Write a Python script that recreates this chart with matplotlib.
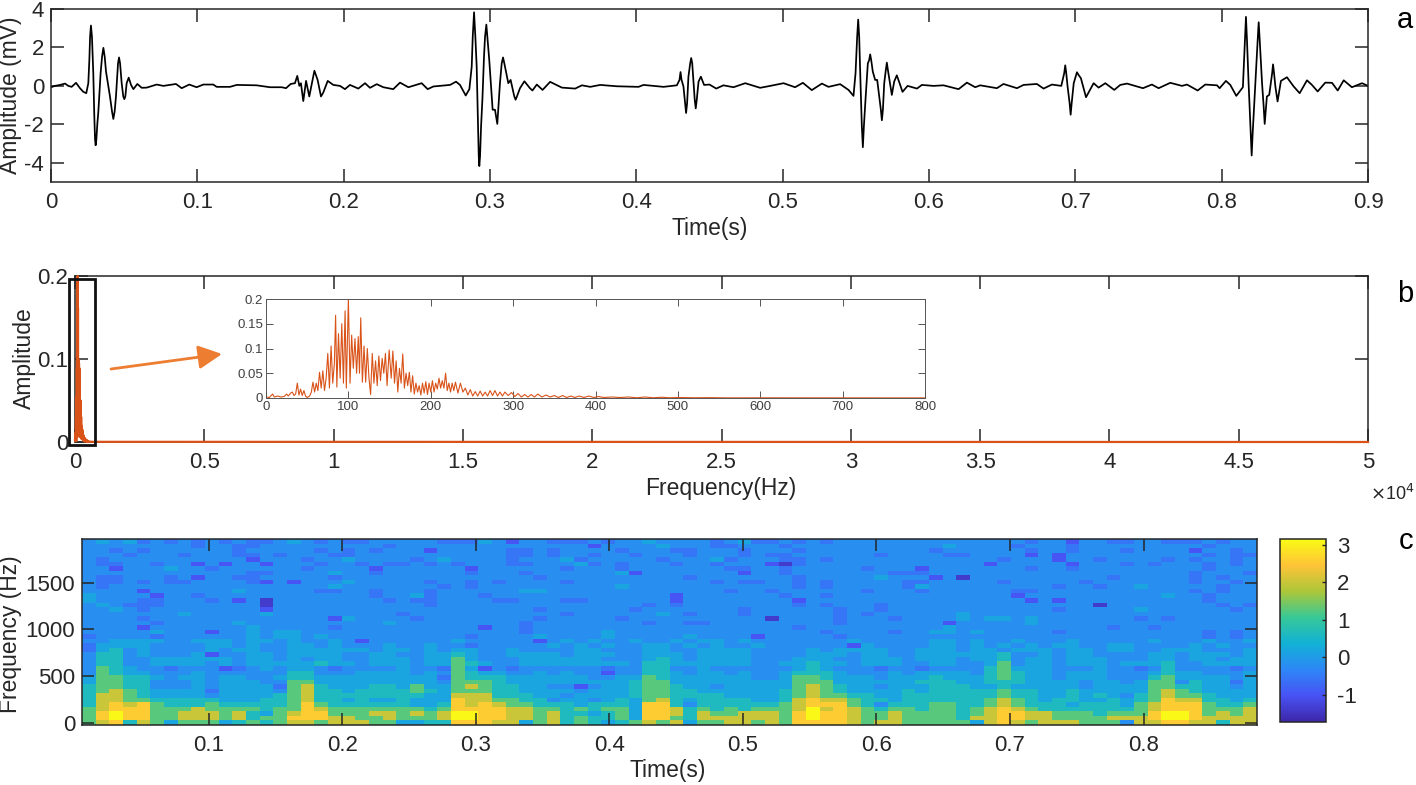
import matplotlib
matplotlib.use('Agg')
import matplotlib.pyplot as plt
import numpy as np
from matplotlib.colors import LinearSegmentedColormap
from matplotlib.patches import Rectangle, FancyArrowPatch

plt.rcParams['font.family'] = ['Liberation Sans', 'DejaVu Sans']
plt.rcParams['axes.unicode_minus'] = False

W, H = 1416, 785

# panel a
t_sig = [.0000,.0027,.0062,.0096,.0118,.0141,.0171,.0198,.0221,.0241,.0255,.0273,.0289,.0305,.0323,.0339,.0358,.0376,.0403,.0426,
         .0444,.0465,.0483,.0501,.0517,.0531,.0547,.0563,.0590,.0620,.0654,.0722,.0768,.0854,.0893,.0945,.0995,.1041,.1109,.1132,
         .1223,.1269,.1405,.1497,.1576,.1606,.1638,.1667,.1683,.1697,.1708,.1724,.1743,.1765,.1800,.1822,.1845,.1861,.1891,.1929,
         .1975,.2009,.2043,.2100,.2146,.2180,.2226,.2271,.2339,.2385,.2442,.2533,.2574,.2613,.2727,.2768,.2795,.2834,.2859,.2875,
         .2891,.2909,.2927,.2948,.2966,.2975,.2995,.3018,.3034,.3050,.3068,.3089,.3109,.3125,.3141,.3175,.3205,.3235,.3273,.3290,
         .3320,.3359,.3411,.3491,.3582,.3628,.3685,.3753,.3867,.4015,.4049,.4186,.4277,.4302,.4322,.4340,.4356,.4375,.4390,.4406,
         .4425,.4441,.4463,.4500,.4546,.4595,.4664,.4744,.4846,.4915,.5006,.5085,.5138,.5199,.5268,.5313,.5393,.5450,.5484,.5498,
         .5516,.5530,.5548,.5566,.5582,.5598,.5616,.5632,.5646,.5678,.5694,.5712,.5730,.5746,.5762,.5780,.5799,.5819,.5854,.5918,
         .5951,.6031,.6099,.6202,.6259,.6316,.6350,.6464,.6509,.6601,.6646,.6737,.6783,.6840,.6904,.6931,.6947,.6968,.6989,.7011,
         .7038,.7073,.7125,.7159,.7205,.7266,.7307,.7353,.7462,.7523,.7569,.7649,.7729,.7763,.7836,.7888,.7968,.7986,.8029,.8059,
         .8100,.8145,.8166,.8184,.8205,.8230,.8253,.8276,.8294,.8309,.8325,.8351,.8367,.8382,.8405,.8446,.8492,.8533,.8583,.8617,
         .8656,.8708,.8754,.8793,.8834,.8890,.8959,.9000]
amp_sig = [-.07,0,.05,.12,0,-.05,.16,-.12,-.31,-.38,.14,3.14,.66,-3.09,-1.41,.66,1.98,.74,-.55,-1.72,
           -.55,1.48,.14,-.69,.14,.43,.05,-.17,.10,-.10,-.09,.07,0,.10,-.12,.07,-.07,.07,.07,-.05,
           -.05,.05,.03,-.07,-.07,-.12,.10,.14,.52,0,.14,-.79,.26,-.55,.79,.31,-.55,-.34,.26,.05,
           0,-.17,.05,-.14,.14,-.10,.09,-.07,-.17,.17,-.07,.14,-.17,-.03,.05,.22,.05,-.50,-.17,1.00,
           3.83,1.00,-4.17,-.72,2.55,3.19,1.34,-1.24,-1.24,-1.98,.14,1.48,.74,.14,.31,-.72,-.12,.24,-.12,-.24,
           .07,-.21,.21,-.09,-.14,.03,-.05,.05,-.02,-.05,.05,-.05,.03,.72,-.03,-1.41,.48,1.45,.31,-1.17,
           .22,.48,.05,.07,-.14,.03,-.07,.14,-.10,0,.14,-.07,.16,-.22,.12,-.05,.09,-.21,-.52,.66,
           3.45,.66,-3.19,-.72,1.17,1.64,.74,.31,.31,-1.79,.14,1.21,.31,-.47,.22,.55,.14,-.31,0,-.14,
           .05,0,.03,-.17,.17,-.07,.03,-.12,.10,-.12,.05,.10,-.14,.07,0,1.07,-.03,-1.50,.14,.71,
           .40,-.59,.14,-.09,.14,-.21,.05,.12,-.12,.07,-.12,.16,0,.07,-.24,.07,.03,-.12,.26,.05,
           -.52,-.07,3.59,.14,-3.62,.14,3.31,.14,-1.98,-.55,-.47,1.12,-.03,-.81,.26,.45,-.03,-.38,.29,.05,
           -.29,.17,.16,-.24,.29,-.07,.14,0]
# more points read on the flanks of the big peaks
t_flank = [.0262,.0267,.0280,.0285,.0296,.0301,.0310,.0317,.0349,.0367,.0417,.0435,.0458,.0472,.0494,.0508,
           .2882,.2900,.2918,.2923,.2932,.2939,.2959,.2984,.3080,.3098,.3166,.3184,
           .4295,.4309,.4333,.4347,.4368,.4382,.4399,.4413,
           .5509,.5523,.5541,.5555,.5591,.5605,.5671,.5685,.5705,.5719,
           .6924,.6938,.6961,.6975,.7002,.7022,
           .8159,.8173,.8198,.8212,.8246,.8260,.8287,.8345,.8358]
amp_flank = [1.34,2.55,2.55,1.52,-1.59,-2.79,-2.79,-1.93,1.52,1.52,-1.33,-1.33,1.17,1.17,-.55,-.55,
             2.55,2.55,-2.10,-3.66,-3.66,-2.10,1.52,2.38,1.17,1.17,-.55,-.55,
             .31,.31,-.90,-.90,1.17,1.17,-.72,-.72,
             2.55,2.55,-2.10,-2.10,1.34,1.34,-1.24,-1.24,.83,.83,
             .66,.66,-.90,-.90,.48,.57,
             2.38,2.38,-2.45,-2.45,2.38,2.38,-1.07,.66,.66]

# panel b, spectrum
spec_freq = [0,4,8,10,14,18,22,25,27,30,
             32,34,36,38,40,42,44,46,48,50,
             53,55,57,59,61,63,65,67,69,71,
             73,75,77,79,81,83,84.5,86,88,90,
             92,94,96,97.5,100,102,104,106,108,110,
             112,113.5,115,117,119,121,123,125,127,129,
             131,133,135,137,139,141,143,145,147,149.5,
             152,154,156,158,160,162,164,166,168,170,
             172,174,176,178,180,182,184,186,188,190,
             192,194,196,198,200,202,204,206,208,210,
             212,214,216,218,220,222,224,226,228,230,
             233,236,239,242,245,248,251,254,257,260,
             263,266,269,272,275,278,281,284,287,290,
             294,298,302,306,310,314,318,322,326,330,
             335,340,345,350,355,360,365,370,375,380,
             386,392,398,404,410,420,430,440,450,460,
             470,480,490,500,520,540,560,600,700,800]
spec_amp = [.002,.001,.008,.002,.004,.002,.003,.008,.004,.01,
            .012,.005,.008,.03,.006,.018,.005,.015,.004,.001,
            .004,.012,.032,.012,.03,.015,.052,.02,.055,.015,
            .04,.09,.02,.105,.03,.07,.167,.022,.13,.04,
            .15,.03,.176,.02,.2,.03,.127,.06,.12,.05,
            .124,.05,.162,.032,.105,.032,.1,.04,.007,.09,
            .03,.075,.025,.085,.035,.08,.05,.09,.025,.097,
            .04,.095,.03,.075,.012,.06,.03,.089,.02,.05,
            .025,.052,.012,.045,.008,.03,.012,.025,.006,.03,
            .01,.033,.007,.03,.012,.035,.012,.03,.018,.04,
            .02,.035,.02,.05,.015,.03,.012,.03,.015,.032,
            .01,.03,.012,.02,.006,.017,.004,.013,.004,.014,
            .004,.012,.004,.015,.005,.015,.004,.012,.004,.012,
            .005,.011,.003,.009,.002,.007,.002,.007,.002,.008,
            .002,.006,.002,.005,.001,.005,.001,.004,.001,.004,
            .001,.004,.001,.003,.001,.002,.001,.002,.0005,.002,
            .0005,.0015,.0005,.001,.0005,.0007,.0003,.0004,.0002,.0002]
spec_end_freq = 50000
spec_end_amp = 0

# panel c, levels read by eye: 0 darkest .. 9 brightest
level_values = [-1.4, -1.0, -0.55, -0.2, 0.15, 0.6, 1.25, 2.0, 2.55, 3.1]

# upper part, one string per row from the top (41 rows in all, 86 columns)
upper_rows = [
    "3434232323 2322343232 2333332224 3133222323 3433332342 2323233333 3333333332 3313322332 223233",
    "3333333323 3223333333 3323333333 3333333133 3343332233 3233333333 3334333323 3323333333 332333",
    "3323233333 3233333232 3233313333 3223233332 3332233323 3323333333 3323333332 3323332333 313323",
    "3332333233 3223233322 3333333333 3223233233 2333233323 2233333323 3332233331 3133333333 332322",
    "3233333333 3313332334 3333234333 3233342333 3323334233 3223233333 3333333233 3133233332 323323",
    "3223323313 1331333233 2322323233 3223334232 3332332333 1023333333 3333331333 3313332323 332323",
    "3313334332 3333332333 3133333313 3333323332 3333333223 3233333233 3133333332 3323333333 332333",
    "3333333333 3322333343 3233333323 3323333334 1333333313 3233333332 2233333333 3333333333 323332",
    "3223332313 3223333323 3333333333 3332333333 3333233333 3323333343 3313033333 3333323333 323233",
    "3223232233 3321313334 3333323323 2333323333 3333332322 3323233333 2233333233 3332333333 323323",
    "3233333333 3333333343 3333332323 3333333334 3333333333 3323233333 2433333333 3233233433 333233",
    "3333133333 3433333223 3233323333 3344333333 3333333233 2333333233 3233333322 3333333333 323233",
    "4333313323 3333333333 3233423332 3333333333 3331333333 3233233333 3333333313 3333333334 332333",
    "4333223332 3130333333 3323223333 2233322333 3331333333 3313333333 3333333331 3133333333 332333",
    "3432223333 3330333333 3333323333 3333333333 3232333333 3323233323 3333333333 3333033333 333232",
    "3343233333 3331333333 3333333333 3332333333 2333333323 3333323323 3333333333 3233333433 333323",
    "3333333433 3334333333 3332333333 3333323333 3343233323 3333323233 3333433333 3333333333 333333",
    "3333233333 3333333314 3333233333 3332333332 3333333333 0333323332 3333434434 3333333232 333333",
    "3333323333 3433333333 3343333333 3323333333 3233223333 3333323333 3331333334 3333333333 333333",
    "3333133333 3343333323 3333333331 3323333333 3333333333 3323333333 3334333333 3333323323 333333",
    "3333343331 3343443333 3333333333 3323333343 3333333333 3333233332 3344343333 3233333333 332323",
    "2333323333 3343443433 3333333323 3334333343 3333433331 3333323333 3333333333 3333333333 332323",
    "3344443344 4344343343 1333333433 3331343433 4334344343 3333334333 3344343343 3343333343 334334",
    "2444433334 4343344343 3343343323 3333434343 3443434334 3333331433 3344343434 3443344333 343433",
    "2453433334 3443344444 4344343443 3433334433 3443344443 3334344443 3444344344 4344344334 443334",
    "3553433341 3344344443 3443344543 3444434443 3444344443 3334443443 3444444533 4344333344 344434",
    "3553344444 4344343443 3444344643 3344444433 3454344443 3344433444 3444344534 4344433344 344344",
    "3553344443 4344444544 3444344654 3344444444 3554444443 3445443444 3344334634 4344434445 334444",
]
# lower part, one string per column, rows 28..40 going down
lower_cols = [
    "3344555556666","6666667777887","5566677788998","4455566678885","3455555688887","3343344566666",
    "2333344556664","3343344556776","3444444557776","3333323566776","1344444456664","2344444456775",
    "3334444456556","4333444555465","3343235556666","4556666666787","4556777788887","3344555567886",
    "2344455556677","3344445456677","3444455556667","3444555456766","3444555456776","4444455556664",
    "3344665446764","3444454445665","2323444456775","6666667888998","4556767778998","1456667788888",
    "3455555678887","2344555667777","3344445567774","3444444556666","3344344356777","3444343455555",
    "3344134446566","3334344355455","2134444456554","3344444556665","3345555444446","5566666688887",
    "5556666788886","3444555557767","3344455435554","4444445556776","3444345555676","3344444556677",
    "3444444555777","3334444456776","3334444456777","3444455566666","4566666777888","5566777889998",
    "4556666787888","3444556788888","3344445667777","3344445556666","2334344535667","3444444456777",
    "3344455556666","2445445555666","3455555566666","3445555566666","3444555555556","3344455556674",
    "5555455667777","6665566778888","4555455667887","4444455556776","4444444455777","3334444555667",
    "3444455545667","3443344455666","4444445455566","3334444555676","3333443445673","2334445566677",
    "3456666677887","5566677888998","3443566788998","3445556788887","3344445566677","3344444556775",
    "2332344456677","3444444567777",
]

parula_colors = [(0.2422,0.1504,0.6603),(0.2810,0.3228,0.9579),(0.1786,0.5289,0.9682),(0.0689,0.6948,0.8394),
                 (0.2161,0.7843,0.5923),(0.6720,0.7793,0.2227),(0.9970,0.7659,0.2199),(0.9769,0.9839,0.0805)]
parula = LinearSegmentedColormap.from_list('parula', parula_colors, N=256)

codes = np.zeros((41, 86), dtype=int)
for i, row in enumerate(upper_rows):
    codes[i] = [int(c) for c in row.replace(' ', '')]
for j, col in enumerate(lower_cols):
    codes[28:, j] = [int(c) for c in col]
spec_vals = np.array(level_values)[codes]


def box(l, t, r, b):
    return [l / W, 1 - b / H, (r - l) / W, (b - t) / H]


def style(ax, size=16, tlen=9.5, color='#262626', lw=1.1):
    ax.tick_params(direction='in', top=True, right=True, length=tlen, width=lw,
                   labelsize=size, color=color, labelcolor=color)
    ax.tick_params(axis='x', pad=7.5)
    ax.tick_params(axis='y', pad=5)
    for s in ax.spines.values():
        s.set_linewidth(lw)
        s.set_color(color)


def label(x, y, s, **kw):
    kw.setdefault('fontsize', 16.5)
    kw.setdefault('color', '#262626')
    fig.text(x / W, 1 - y / H, s, ha='center', va='center', **kw)


fig = plt.figure(figsize=(W / 100, H / 100), dpi=100)

# a
order = np.argsort(t_sig + t_flank)
t_line = np.array(t_sig + t_flank)[order]
amp_line = np.array(amp_sig + amp_flank)[order]
ax1 = fig.add_axes(box(51, 9, 1368, 182))
ax1.plot(t_line, amp_line, color='k', lw=1.25)
ax1.set_xlim(0, 0.9)
ax1.set_ylim(-5, 4)
ax1.set_xticks(np.arange(0, 10) / 10)
ax1.set_xticklabels(['0', '0.1', '0.2', '0.3', '0.4', '0.5', '0.6', '0.7', '0.8', '0.9'])
ax1.set_yticks([-4, -2, 0, 2, 4])
style(ax1)

# b
freq_all = spec_freq + [spec_end_freq]
amp_all = spec_amp + [spec_end_amp]
ax2 = fig.add_axes(box(75, 276, 1368, 442))
ax2.plot(freq_all, amp_all, color='#d95319', lw=1.6, clip_on=False, zorder=5)
ax2.set_xlim(0, 50000)
ax2.set_ylim(0, 0.2)
ax2.set_xticks(np.arange(0, 50001, 5000))
ax2.set_xticklabels(['0', '0.5', '1', '1.5', '2', '2.5', '3', '3.5', '4', '4.5', '5'])
ax2.set_yticks([0, 0.1, 0.2])
ax2.set_yticklabels(['0', '0.1', '0.2'])
style(ax2)

# inset
ax3 = fig.add_axes(box(266, 299, 925, 398))
ax3.plot(spec_freq, spec_amp, color='#d95319', lw=0.8)
ax3.set_xlim(0, 800)
ax3.set_ylim(0, 0.2)
ax3.set_xticks(np.arange(0, 801, 100))
ax3.set_yticks([0, 0.05, 0.1, 0.15, 0.2])
ax3.set_yticklabels(['0', '0.05', '0.1', '0.15', '0.2'])
ax3.tick_params(direction='in', top=True, right=True, length=5, width=0.7,
                labelsize=9.5, color='#555555', labelcolor='#404040', pad=2)
for s in ax3.spines.values():
    s.set_linewidth(0.7)
    s.set_color('#555555')

fig.add_artist(Rectangle((69 / W, 1 - 445 / H), 26 / W, 166 / H, transform=fig.transFigure,
                         fill=False, edgecolor='#111111', lw=2.0))
fig.add_artist(FancyArrowPatch((111 / W, 1 - 369 / H), (222 / W, 1 - 354 / H), transform=fig.transFigure,
                               arrowstyle='-|>,head_length=4.8,head_width=2.4', mutation_scale=3,
                               color='#ed7d31', lw=2, shrinkA=0, shrinkB=0))

# c
t_edges = np.linspace(0.005, 0.885, 87)
f_edges = np.linspace(1971, -25, 42)
ax4 = fig.add_axes(box(82, 539, 1257, 725))
mesh = ax4.pcolormesh(t_edges, f_edges, spec_vals, cmap=parula, vmin=-1.73, vmax=3.15)
ax4.set_xlim(0.005, 0.885)
ax4.set_ylim(-25, 1971)
ax4.set_xticks(np.arange(1, 9) / 10)
ax4.set_xticklabels(['0.1', '0.2', '0.3', '0.4', '0.5', '0.6', '0.7', '0.8'])
ax4.set_yticks([0, 500, 1000, 1500])
style(ax4, tlen=8.5)

cax = fig.add_axes(box(1280, 539, 1326, 722))
cb = fig.colorbar(mesh, cax=cax)
cb.set_ticks([-1, 0, 1, 2, 3])
cax.tick_params(direction='in', length=3, width=1, labelsize=16, color='#262626', labelcolor='#262626', pad=8)
cb.outline.set_linewidth(1.1)
cb.outline.set_edgecolor('#262626')

label(710, 228, 'Time(s)')
label(721, 488, 'Frequency(Hz)')
label(668, 770, 'Time(s)')
label(11, 95, 'Amplitude (mV)', rotation=90)
label(24, 358, 'Amplitude', rotation=90)
label(11, 634, 'Frequency (Hz)', rotation=90)
label(1392, 494, r'$\times$10$^{4}$', fontsize=13)
label(1405, 20, 'a', fontsize=21, color='k')
label(1405, 294, 'b', fontsize=21, color='k')
label(1406, 541, 'c', fontsize=21, color='k')

fig.savefig('out.png', dpi=100)
